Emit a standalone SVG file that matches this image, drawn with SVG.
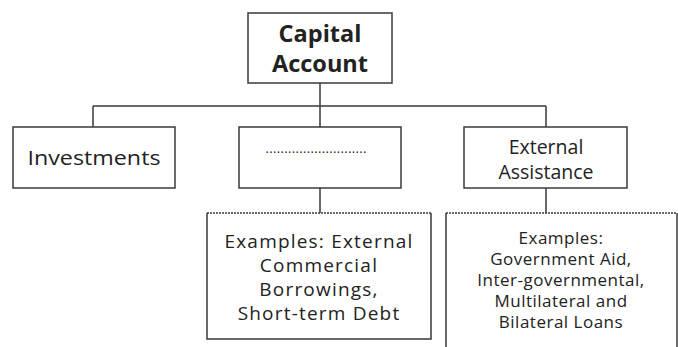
<svg xmlns="http://www.w3.org/2000/svg" width="678" height="347" viewBox="0 0 678 347">
<style>
.box{fill:#fff;stroke:#3a3a3a;stroke-width:1.5}
.side{fill:none;stroke:#3a3a3a;stroke-width:1.5}
.dot{fill:none;stroke:#3a3a3a;stroke-width:1.5;stroke-dasharray:2 1}
.conn{fill:none;stroke:#3a3a3a;stroke-width:1.5}
text{font-family:"Open Sans","Noto Sans","DejaVu Sans",sans-serif;fill:#222;text-anchor:middle}
.t{font-size:19.5px}
.l{font-size:19px;letter-spacing:1.2px}
.s{font-size:17px;letter-spacing:0.5px}
.b{font-size:23.5px;font-weight:bold}
</style>
<rect width="678" height="347" fill="#fff"/>
<g id="connectors">
<path class="conn" d="M320 83V106M93 106H546M93 106V127M320 106V127M546 106V127M320 188V213M546 188V213"/>
</g>
<g id="capital">
<rect class="box" x="248" y="13" width="144" height="70"/>
<text class="b" x="320" y="42">Capital</text>
<text class="b" x="320" y="72">Account</text>
</g>
<g id="investments">
<rect class="box" x="13" y="127" width="162" height="61"/>
<text class="t" x="94" y="165" textLength="133" lengthAdjust="spacingAndGlyphs">Investments</text>
</g>
<g id="blank">
<rect class="box" x="239" y="127" width="162" height="61"/>
<text x="316" y="153" font-size="13" textLength="101" lengthAdjust="spacing">...........................</text>
</g>
<g id="external">
<rect class="box" x="464" y="127" width="163" height="61"/>
<text class="t" x="546" y="154">External</text>
<text class="t" x="546" y="179">Assistance</text>
</g>
<g id="examples1">
<rect x="207" y="213" width="224" height="126" fill="#fff"/>
<path class="side" d="M207 213V339H431V213"/>
<path class="dot" d="M207 213H431"/>
<text class="l" x="319" y="248">Examples: External</text>
<text class="l" x="319" y="272">Commercial</text>
<text class="l" x="319" y="296">Borrowings,</text>
<text class="l" x="319" y="320">Short-term Debt</text>
</g>
<g id="examples2">
<rect x="446" y="213" width="231" height="140" fill="#fff"/>
<path class="side" d="M446 352V213M677 213V352"/>
<path class="dot" d="M446 213H677"/>
<text class="s" x="561" y="244">Examples:</text>
<text class="s" x="561" y="265">Government Aid,</text>
<text class="s" x="561" y="286">Inter-governmental,</text>
<text class="s" x="561" y="307">Multilateral and</text>
<text class="s" x="561" y="328">Bilateral Loans</text>
</g>
</svg>
